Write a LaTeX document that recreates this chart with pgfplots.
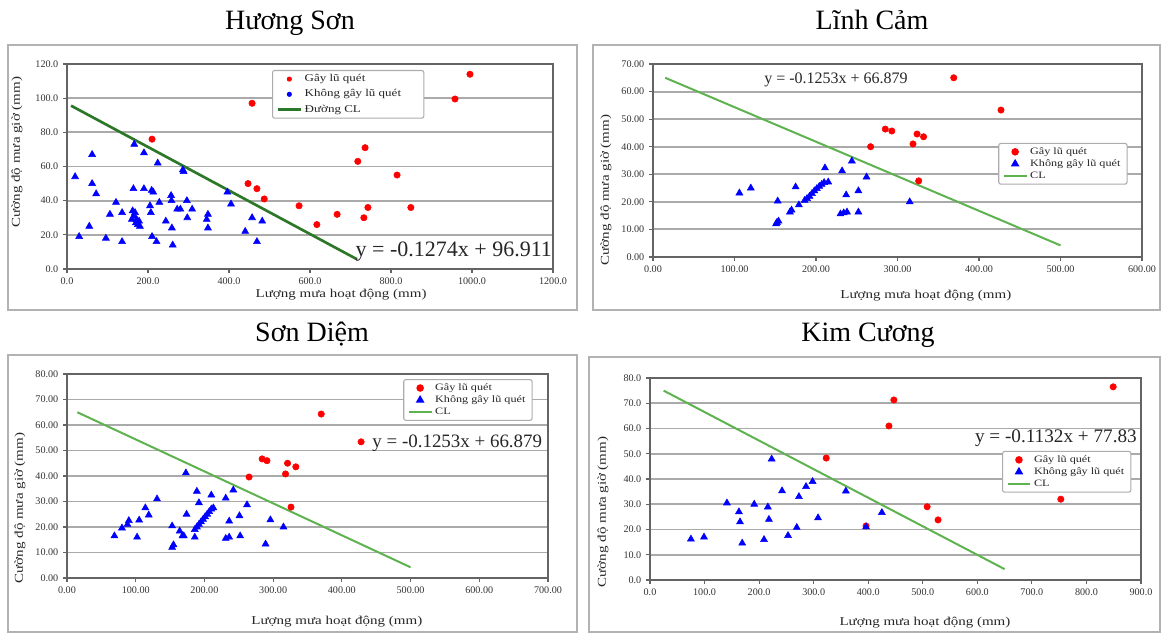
\documentclass[border=0pt]{standalone}
\usepackage{fontspec}
\setmainfont{Liberation Serif}
\newfontfamily\widefont[FakeStretch=1.25]{Liberation Serif}
\usepackage{pgfplots}
\pgfplotsset{compat=1.18}

\definecolor{redpt}{RGB}{255,0,0}
\definecolor{bluept}{RGB}{0,0,255}
\definecolor{darkCL}{RGB}{45,120,40}
\definecolor{lightCL}{RGB}{95,178,80}
\definecolor{gridgray}{RGB}{170,170,170}
\definecolor{framegray}{RGB}{100,100,100}

\pgfplotsset{
  panel/.style={
    scale only axis, clip=false,
    axis line style={draw=framegray, line width=2pt},
    ymajorgrids, major grid style={draw=gridgray, line width=1.4pt},
    tick align=outside, major tick length=3pt,
    tick style={draw=framegray, line width=0.8pt},
    xtick pos=bottom, ytick pos=left,
    ticklabel style={font=\fontsize{7.6}{8}\selectfont, text=black!80},
    /pgf/number format/assume math mode=true,
    /pgf/number format/fixed, /pgf/number format/fixed zerofill,
    /pgf/number format/1000 sep={},
    label style={font=\widefont\fontsize{9}{10}\selectfont, text=black!85},
    legend cell align=left,
    legend style={draw=gray!65, line width=0.8pt, rounded corners=1.5pt, fill=white,
      font=\widefont\fontsize{7.3}{8}\selectfont, text=black!85, inner xsep=3pt, inner ysep=1pt,
      row sep=-1.5pt, anchor=north west},
  },
  redpts/.style={only marks, mark=*, mark size=2.4pt, color=redpt},
  bluepts/.style={only marks, mark=triangle*, mark size=3pt, color=bluept},
}

\begin{document}
\begin{tikzpicture}
\path[use as bounding box] (0pt,0pt) rectangle (873pt,475.5pt);

% outer chart frames
\draw[gray!60, line width=1.2pt] (6pt,243pt) rectangle (432.75pt,441.75pt);
\draw[gray!60, line width=1.2pt] (444.75pt,243pt) rectangle (870pt,441.75pt);
\draw[gray!60, line width=1.2pt] (6pt,1.5pt) rectangle (432.75pt,209.25pt);
\draw[gray!60, line width=1.2pt] (441.75pt,1.5pt) rectangle (870pt,207.75pt);

% titles
\node[font=\fontsize{21}{24}\selectfont, anchor=base] at (217.5pt,453pt) {Hương Sơn};
\node[font=\fontsize{21}{24}\selectfont, anchor=base] at (654pt,453pt) {Lĩnh Cảm};
\node[font=\fontsize{21}{24}\selectfont, anchor=base] at (234pt,219pt) {Sơn Diệm};
\node[font=\fontsize{21}{24}\selectfont, anchor=base] at (651pt,219pt) {Kim Cương};

% ---------------- Panel 1: Huong Son ----------------
\begin{axis}[panel, at={(50.25pt,273.75pt)}, anchor=south west,
  width=364.5pt, height=153.75pt,
  xmin=0, xmax=1200, ymin=0, ymax=120,
  xtick={0,200,...,1200}, ytick={0,20,...,120},
  xticklabel style={/pgf/number format/precision=1},
  yticklabel style={/pgf/number format/precision=1},
  xlabel={Lượng mưa hoạt động (mm)}, ylabel={Cường độ mưa giờ (mm)},
  xlabel style={at={([yshift=-19.5pt]axis description cs:0.564,0)}, anchor=center},
  ylabel style={at={([xshift=-37.5pt]axis description cs:0,0.57)}, anchor=center},
  legend style={at={(axis description cs:0.422,0.971)}, row sep=0.5pt,
    font=\widefont\fontsize{7.8}{8.5}\selectfont},
]
\addplot[redpts, legend image code/.code={\fill[redpt] (0.3cm,0cm) circle (1.5pt);}] coordinates {
(210,76) (457,97) (447,50) (469,47) (487,41) (573,37) (617,26) (667,32)
(718,63) (733,30) (736,71) (743,36) (815,55) (849,36) (958,99.5) (995,114)};
\addlegendentry{Gây lũ quét}
\addplot[bluepts, legend image code/.code={\fill[bluept] (0.3cm,0cm) circle (1.5pt);}] coordinates {
(20,54) (30,19) (55,25) (62,67) (62,50) (72,44) (96,18) (106,32) (121,39)
(136,33) (136,16) (162,34) (164,47) (166,73) (160,29) (165,31) (170,27)
(175,26) (180,25) (168,33) (172,29) (178,28) (190,68) (190,47) (209,46)
(213,45) (205,37) (207,33) (224,62) (210,19) (221,16) (228,39) (244,28)
(257,43) (258,40) (259,24) (261,14) (272,35) (280,35) (286,58) (288,57)
(296,40) (297,30) (309,35) (345,29) (348,32) (348,24) (396,45) (405,38)
(440,22) (457,30) (469,16) (482,28)};
\addlegendentry{Không gây lũ quét\hspace*{12pt}}
\addplot[darkCL, line width=2pt] coordinates {(10,95.6) (716,5.7)};
\addlegendentry{Đường CL}
\node[font=\fontsize{16.5}{18}\selectfont, text=black!85] at (axis cs:955,10) {y = -0.1274x + 96.911};
\end{axis}

% ---------------- Panel 2: Linh Cam ----------------
\begin{axis}[panel, at={(489.75pt,282.75pt)}, anchor=south west,
  width=366.75pt, height=144.75pt,
  xmin=0, xmax=600, ymin=0, ymax=70,
  xtick={0,100,...,600}, ytick={0,10,...,70},
  xticklabel style={/pgf/number format/precision=2},
  yticklabel style={/pgf/number format/precision=2},
  xlabel={Lượng mưa hoạt động (mm)}, ylabel={Cường độ mưa giờ (mm)},
  xlabel style={at={([yshift=-29.25pt]axis description cs:0.558,0)}, anchor=center},
  ylabel style={at={([xshift=-35.25pt]axis description cs:0,0.347)}, anchor=center},
  legend style={at={(axis description cs:0.706,0.591)}},
]
\addplot[redpts] coordinates {
(267,40) (285,46.4) (293,45.7) (319,41) (324,44.6) (326,27.6) (332,43.6)
(369,65) (427,53.3)};
\addlegendentry{Gây lũ quét}
\addplot[bluepts] coordinates {
(106,23.2) (120,25) (151,12) (152,12.5) (154,13) (153,20.3) (168,16.3)
(170,17) (175,25.4) (179,18.9) (186,20.5) (189,21.2) (192,22) (195,23)
(198,24) (201,24.8) (204,25.6) (207,26.3) (210,27) (211,32.3) (215,27.2)
(230,15.6) (234,16) (238,16.3) (232,31.2) (237,22.5) (244,34.8) (252,24)
(252,16.3) (262,29) (315,20)};
\addlegendentry{Không gây lũ quét}
\addplot[lightCL, line width=1.5pt] coordinates {(15,65.0) (500,4.2)};
\addlegendentry{CL}
\node[font=\fontsize{12}{14}\selectfont, text=black!85] at (axis cs:224.5,64.2) {y = -0.1253x + 66.879};
\end{axis}

% ---------------- Panel 3: Son Diem ----------------
\begin{axis}[panel, at={(50.25pt,42pt)}, anchor=south west,
  width=360.75pt, height=153pt,
  xmin=0, xmax=700, ymin=0, ymax=80,
  xtick={0,100,...,700}, ytick={0,10,...,80},
  xticklabel style={/pgf/number format/precision=2},
  yticklabel style={/pgf/number format/precision=2},
  xlabel={Lượng mưa hoạt động (mm)}, ylabel={Cường độ mưa giờ (mm)},
  xlabel style={at={([yshift=-33pt]axis description cs:0.561,0)}, anchor=center},
  ylabel style={at={([xshift=-35.25pt]axis description cs:0,0.343)}, anchor=center},
  legend style={at={(axis description cs:0.699,0.975)}},
]
\addplot[redpts] coordinates {
(265,39.6) (284,46.7) (291,46) (318,40.8) (321,45) (333,43.6) (326,27.8)
(370,64.3) (428,53.4)};
\addlegendentry{Gây lũ quét}
\addplot[bluepts] coordinates {
(69,16.5) (80,19.6) (88,21) (90,22.5) (102,16) (105,22.7) (114,27.5)
(119,24.7) (131,31) (153,12) (155,13) (153,20.4) (164,18.4) (168,16.5)
(170,16.5) (173,41.2) (174,25) (186,16) (186,19) (189,20) (192,21) (195,22)
(198,23) (201,24) (204,25) (207,26) (210,27) (213,27.5) (189,34) (192,29.5)
(210,32.5) (231,31.3) (231,15.5) (236,16) (236,22.3) (242,34.5) (251,24.4)
(252,16.5) (262,28.7) (289,13.3) (296,22.8) (315,20)};
\addlegendentry{Không gây lũ quét}
\addplot[lightCL, line width=1.5pt] coordinates {(15,65.0) (500,4.2)};
\addlegendentry{CL}
\node[font=\fontsize{14.2}{16}\selectfont, text=black!85] at (axis cs:568,52.9) {y = -0.1253x + 66.879};
\end{axis}

% ---------------- Panel 4: Kim Cuong ----------------
\begin{axis}[panel, at={(487.5pt,40.5pt)}, anchor=south west,
  width=368.25pt, height=151.5pt,
  xmin=0, xmax=900, ymin=0, ymax=80,
  xtick={0,100,...,900}, ytick={0,10,...,80},
  xticklabel style={/pgf/number format/precision=1},
  yticklabel style={/pgf/number format/precision=1},
  xlabel={Lượng mưa hoạt động (mm)}, ylabel={Cường độ mưa giờ (mm)},
  xlabel style={at={([yshift=-32.25pt]axis description cs:0.56,0)}, anchor=center},
  ylabel style={at={([xshift=-35.25pt]axis description cs:0,0.337)}, anchor=center},
  legend style={at={(axis description cs:0.717,0.639)}},
]
\addplot[redpts] coordinates {
(323,48.3) (396,21.4) (438,61) (447,71.3) (508,29) (528,23.8) (753,32) (849,76.5)};
\addlegendentry{Gây lũ quét}
\addplot[bluepts] coordinates {
(75,16.2) (99,17) (141,30.5) (163,27) (165,23) (169,14.6) (191,30) (209,16)
(216,28.9) (218,24) (223,47.9) (242,35.3) (253,17.6) (269,20.8) (273,33)
(286,37) (298,39) (308,24.6) (359,35.2) (396,21) (425,26.7)};
\addlegendentry{Không gây lũ quét}
\addplot[lightCL, line width=1.5pt] coordinates {(25,75.0) (650,4.3)};
\addlegendentry{CL}
\node[font=\fontsize{14.4}{16}\selectfont, text=black!85] at (axis cs:744,56.2) {y = -0.1132x + 77.83};
\end{axis}
\end{tikzpicture}
\end{document}
